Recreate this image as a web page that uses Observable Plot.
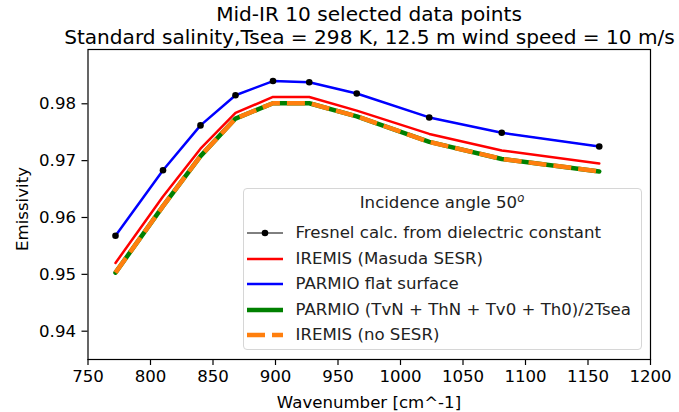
<!DOCTYPE html>
<html><head><meta charset="utf-8">
<script src="https://cdn.jsdelivr.net/npm/d3@7"></script>
<script src="https://cdn.jsdelivr.net/npm/@observablehq/plot@0.6"></script>
<style>
body{margin:0;background:#fff;font-family:"DejaVu Sans",sans-serif;}
#wrap{position:relative;width:679px;height:412px;overflow:hidden;}
.abs{position:absolute;white-space:nowrap;color:#000;line-height:24px;height:24px;}
.ctr{transform:translateX(-50%);}
#legend{position:absolute;left:242.5px;top:188px;width:399px;height:162px;border:1px solid #d6d6d6;border-radius:4px;background:rgba(255,255,255,0.8);box-sizing:border-box;}
.lrow{position:absolute;left:0;height:24px;line-height:24px;font-size:16.6px;color:#222;}
.lrow svg{position:absolute;left:3px;top:0;}
.lrow span{position:absolute;left:52px;top:0;white-space:nowrap;}
</style></head><body><div id="wrap"></div>
<script>
// ---- data ----
const wavenumber = [772, 810, 840, 868, 898, 927, 965, 1023, 1081, 1159];
const fresnel     = [0.9568, 0.9683, 0.9762, 0.9815, 0.9840, 0.9838, 0.9818, 0.9776, 0.9749, 0.9725];
const parmioFlat  = [0.9568, 0.9683, 0.9762, 0.9815, 0.9840, 0.9838, 0.9818, 0.9776, 0.9749, 0.9725];
const iremisMasuda= [0.9520, 0.9637, 0.9721, 0.9784, 0.9812, 0.9812, 0.9788, 0.9747, 0.9718, 0.9695];
const parmioAvg   = [0.9503, 0.9620, 0.9708, 0.9774, 0.9801, 0.9801, 0.9778, 0.9733, 0.9703, 0.9681];
const iremisNoSesr= [0.9503, 0.9620, 0.9708, 0.9774, 0.9801, 0.9801, 0.9778, 0.9733, 0.9703, 0.9681];
const xTicks = [750, 800, 850, 900, 950, 1000, 1050, 1100, 1150, 1200];
const yTicks = [0.94, 0.95, 0.96, 0.97, 0.98];
const seriesNames = [
  "Fresnel calc. from dielectric constant",
  "IREMIS (Masuda SESR)",
  "PARMIO flat surface",
  "PARMIO (TvN + ThN + Tv0 + Th0)/2Tsea",
  "IREMIS (no SESR)"
];
const titleLines = ["Mid-IR 10 selected data points", "Standard salinity,Tsea = 298 K, 12.5 m wind speed = 10 m/s"];
const legendTitle = "Incidence angle 50";
const xLabel = "Wavenumber [cm^-1]";
const yLabel = "Emissivity";

const toRows = vals => wavenumber.map((w, i) => ({x: w, y: vals[i]}));
const F = toRows(fresnel), B = toRows(parmioFlat), R = toRows(iremisMasuda), G = toRows(parmioAvg), O = toRows(iremisNoSesr);

const styles = [
  {stroke: "black", strokeWidth: 1, dot: true},
  {stroke: "#ff0000", strokeWidth: 2.5},
  {stroke: "#0000ff", strokeWidth: 2.5},
  {stroke: "#008000", strokeWidth: 4.5},
  {stroke: "#ff7f0e", strokeWidth: 4.5, dash: "18,7"}
];

const chart = Plot.plot({
  width: 679, height: 412,
  marginLeft: 87.5, marginRight: 29, marginTop: 49, marginBottom: 53,
  x: {domain: [750, 1200]},
  y: {domain: [0.93502, 0.98955]},
  style: {fontFamily: "DejaVu Sans", background: "white", color: "black", overflow: "visible"},
  marks: [
    Plot.axisX({ticks: xTicks, tickSize: 6, tickPadding: 5, fontSize: 16.6, label: null, tickFormat: d => String(d), strokeWidth: 1.2}),
    Plot.axisY({ticks: yTicks, tickSize: 6, tickPadding: 6, fontSize: 16.6, label: null, tickFormat: d3.format(".2f"), strokeWidth: 1.2}),
    Plot.line(F, {x: "x", y: "y", stroke: "black", strokeWidth: 1}),
    Plot.line(R, {x: "x", y: "y", stroke: "#ff0000", strokeWidth: 2.5}),
    Plot.line(B, {x: "x", y: "y", stroke: "#0000ff", strokeWidth: 2.5}),
    Plot.line(G, {x: "x", y: "y", stroke: "#008000", strokeWidth: 4.5}),
    Plot.line(O, {x: "x", y: "y", stroke: "#ff7f0e", strokeWidth: 4.5, strokeDasharray: "18,7", strokeLinecap: "butt"}),
    Plot.dot(F, {x: "x", y: "y", r: 3.3, fill: "black"}),
    Plot.frame({stroke: "black", strokeWidth: 1.2})
  ]
});
const wrap = document.getElementById("wrap");
wrap.appendChild(chart);
chart.style.position = "absolute"; chart.style.left = "0"; chart.style.top = "0";

function addText(txt, left, top, size, extra) {
  const d = document.createElement("div");
  d.className = "abs ctr";
  d.style.left = left + "px"; d.style.top = top + "px"; d.style.fontSize = size + "px";
  if (extra) Object.assign(d.style, extra);
  d.textContent = txt;
  wrap.appendChild(d);
  return d;
}
addText(titleLines[0], 369, 2, 20.1);
addText(titleLines[1], 369.5, 25, 20.1);
addText(xLabel, 369, 391, 16.6);
addText(yLabel, 22.5, 197, 16.6, {transform: "translateX(-50%) rotate(-90deg)"});

// legend
const lg = document.createElement("div");
lg.id = "legend";
wrap.appendChild(lg);
const lt = document.createElement("div");
lt.className = "lrow";
lt.style.top = (203 - 188 - 12 - 1) + "px";
lt.style.width = "100%"; lt.style.textAlign = "center";
lt.innerHTML = legendTitle + '<sup style="font-style:italic;font-size:0.7em;vertical-align:0.55em;line-height:0">o</sup>';
lg.appendChild(lt);
const rowCenters = [233.3, 258.8, 284.3, 309.8, 335.3];
seriesNames.forEach((name, i) => {
  const s = styles[i];
  const row = document.createElement("div");
  row.className = "lrow";
  row.style.top = (rowCenters[i] - 188 - 12 - 1) + "px";
  row.style.width = "100%";
  const dash = s.dash ? `stroke-dasharray="${s.dash}" stroke-linecap="butt"` : `stroke-linecap="butt"`;
  const dot = s.dot ? `<circle cx="18" cy="12" r="3.3" fill="black"/>` : "";
  row.innerHTML = `<svg width="40" height="24"><line x1="0" x2="36" y1="12" y2="12" stroke="${s.stroke}" stroke-width="${s.strokeWidth}" ${dash}/>${dot}</svg><span>${name}</span>`;
  lg.appendChild(row);
});
</script>
</body></html>
